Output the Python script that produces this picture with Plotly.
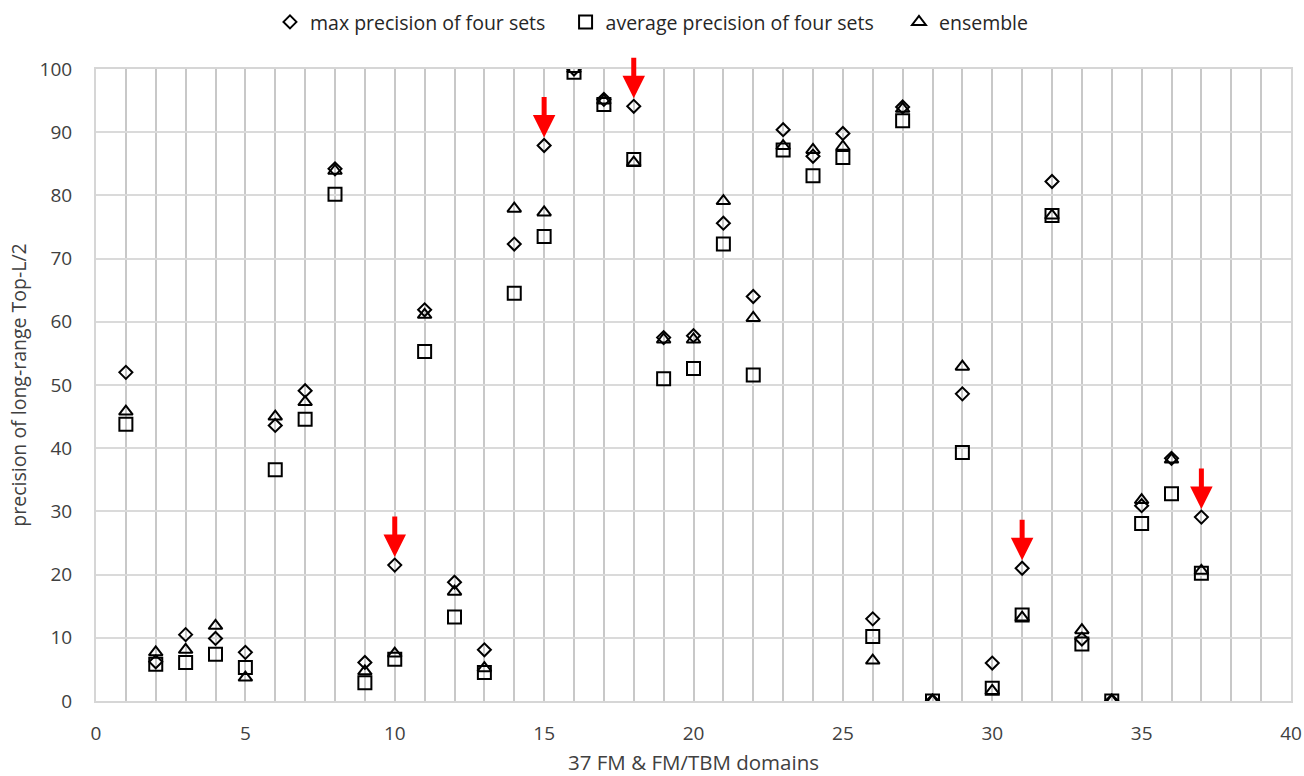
import plotly.graph_objects as go

domains = list(range(1, 38))
max_precision = [52.0, 6.2, 10.5, 9.9, 7.7, 43.6, 49.1, 84.2, 6.1, 21.5,
                 61.9, 18.8, 8.1, 72.3, 87.9, 100.0, 95.2, 94.1, 57.5, 57.8,
                 75.6, 64.0, 90.4, 86.2, 89.8, 13.0, 94.0, 0.0, 48.6, 6.0,
                 21.0, 82.2, 9.8, 0.0, 30.9, 38.4, 29.1]
avg_precision = [43.8, 5.8, 6.1, 7.4, 5.3, 36.6, 44.6, 80.2, 2.9, 6.6,
                 55.3, 13.3, 4.5, 64.5, 73.5, 99.5, 94.4, 85.7, 51.0, 52.6,
                 72.3, 51.6, 87.2, 83.1, 86.0, 10.2, 91.8, 0.0, 39.3, 2.0,
                 13.6, 76.8, 9.0, 0.0, 28.1, 32.8, 20.2]
ensemble = [45.8, 7.7, 8.1, 11.9, 3.7, 45.0, 47.3, 83.9, 4.7, 7.5,
            61.1, 17.3, 5.2, 77.9, 77.3, 100.0, 95.0, 85.2, 57.2, 57.2,
            79.1, 60.6, 87.8, 87.2, 87.7, 6.4, 93.7, 0.0, 52.9, 1.6,
            13.2, 76.8, 11.2, 0.0, 31.8, 38.2, 20.6]
arrow_domains = [10, 15, 18, 31, 37]

x_ticks = list(range(0, 41, 5))
y_ticks = list(range(0, 101, 10))

font_family = "Open Sans, Liberation Sans, sans-serif"
NB = "\u00a0"

fig = go.Figure()
fig.add_trace(go.Scatter(
    x=domains, y=max_precision, mode="markers", name="max precision of four sets" + NB * 3,
    marker=dict(symbol="diamond-open", size=10, color="black", line=dict(width=2, color="black")),
))
fig.add_trace(go.Scatter(
    x=domains, y=avg_precision, mode="markers", name="average precision of four sets" + NB * 4,
    marker=dict(symbol="square-open", size=13, color="black", line=dict(width=2, color="black")),
))
fig.add_trace(go.Scatter(
    x=domains, y=ensemble, mode="markers", name="ensemble",
    marker=dict(symbol="triangle-up-open", size=12, color="black", line=dict(width=2, color="black")),
))

for d in arrow_domains:
    fig.add_annotation(
        x=d, y=max_precision[d - 1], xref="x", yref="y",
        ax=0, ay=-50, showarrow=True, arrowhead=2, arrowsize=0.9,
        arrowwidth=5, arrowcolor="red", standoff=8, text="",
    )

fig.update_layout(
    width=1304, height=776,
    margin=dict(l=96, r=13, t=69, b=75, autoexpand=False),
    paper_bgcolor="white", plot_bgcolor="white",
    font=dict(family=font_family, size=16, color="#404040"),
    showlegend=True,
    legend=dict(orientation="h", x=0.1456, xanchor="left", y=1.074, yanchor="middle",
                font=dict(size=19.5, color="#262626"), itemwidth=30,
                bgcolor="rgba(0,0,0,0)"),
    xaxis=dict(
        range=[0, 40], tickvals=x_ticks, showgrid=True, gridcolor="#c8c8c8", gridwidth=2,
        minor=dict(dtick=1, showgrid=True, gridcolor="#c8c8c8", gridwidth=2),
        zeroline=False, showline=True, linecolor="#d6d6d6", linewidth=2, mirror=True,
        ticks="", ticklabelstandoff=14, automargin=False,
        tickfont=dict(size=19, color="#404040"),
        title=dict(text="37 FM & FM/TBM domains", font=dict(size=20.5, color="#404040"), standoff=15),
    ),
    yaxis=dict(
        range=[0, 100], tickvals=y_ticks, showgrid=True, gridcolor="#dadada", gridwidth=2,
        zeroline=False, showline=True, linecolor="#d6d6d6", linewidth=2, mirror=True,
        ticks="", ticklabelstandoff=18, automargin=False,
        tickfont=dict(size=19, color="#404040"),
        title=dict(text="precision of long-range Top-L/2", font=dict(size=19.5, color="#404040"), standoff=8),
    ),
)

fig.write_html("out.html")
